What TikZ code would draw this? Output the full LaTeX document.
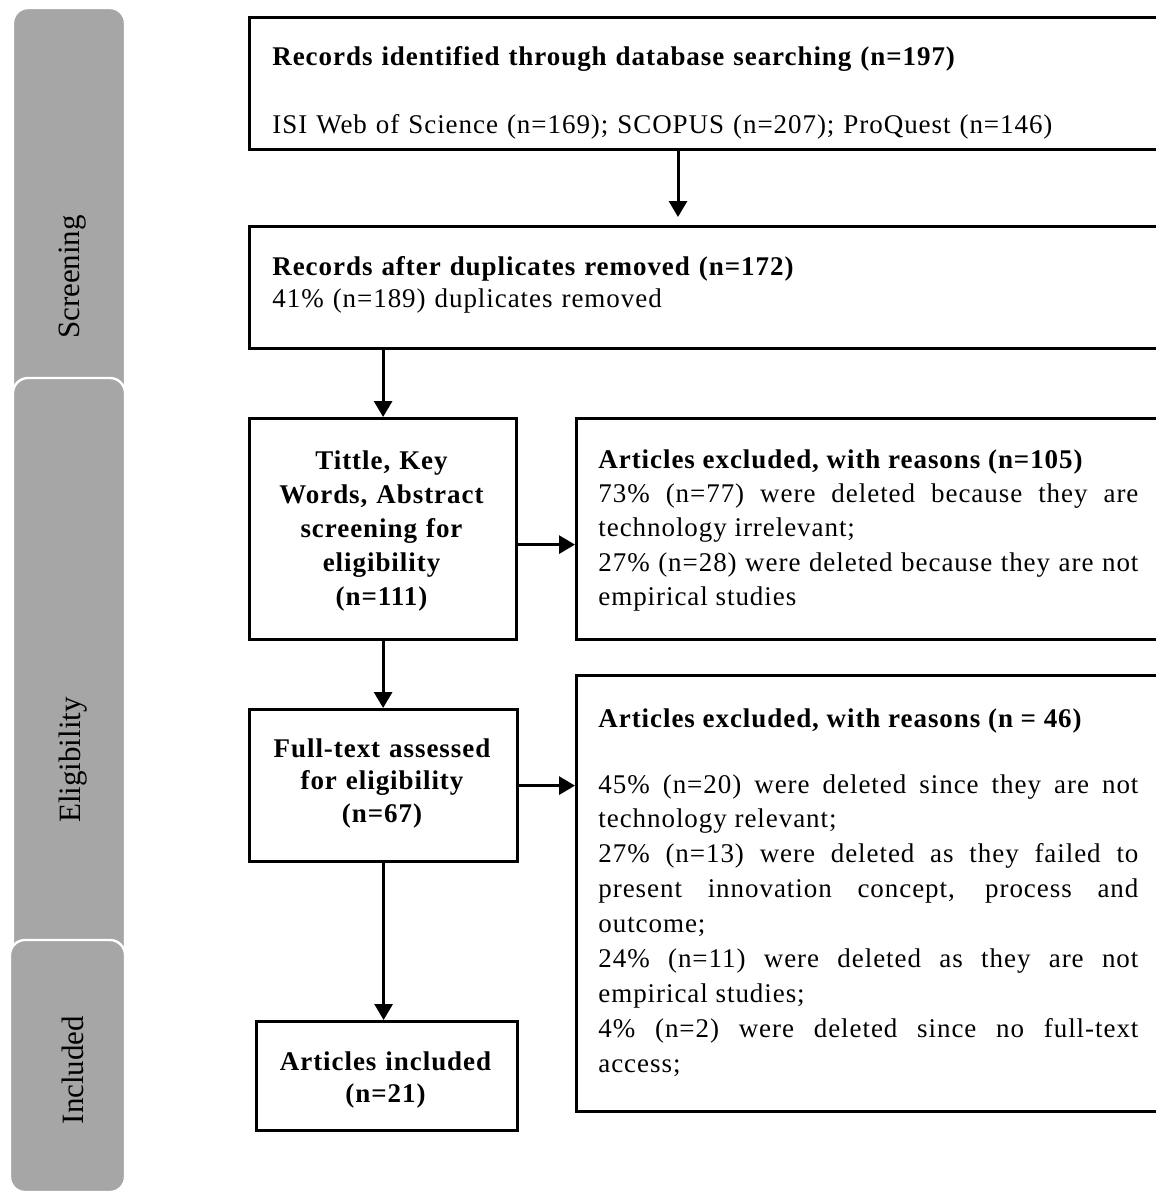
\documentclass[tikz,border=0pt]{standalone}
\usepackage{fontspec}
\setmainfont{Liberation Serif}[LetterSpace=3.5]
\newfontfamily\phasefont{Liberation Serif}
\usetikzlibrary{arrows.meta}
\usetikzlibrary{calc}
\definecolor{phasegray}{HTML}{A6A6A6}

\begin{document}
\begin{tikzpicture}[
        x=0.5pt, y=-0.5pt,
        box/.style={rectangle, draw=black, line width=1.6pt, anchor=north west, inner sep=0pt},
        txt/.style={anchor=base west, inner sep=0pt, align=left, font=\fontsize{13.5}{17.2}\selectfont},
        ctxt/.style={anchor=base, inner sep=0pt, align=center, font=\fontsize{13.5}{#1}\selectfont\bfseries},
        jtxt/.style={anchor=base west, inner sep=0pt, text width=270pt, align=justify,
            font=\fontsize{13.5}{#1}\selectfont,
            execute at begin node={\tolerance=10000\relax\hbadness=10000\relax}},
        phase/.style={rounded corners=7.5pt, fill=phasegray, draw=white, line width=1.2pt},
        phasetxt/.style={rotate=90, inner sep=0pt, font=\phasefont\fontsize{15.5}{18}\selectfont},
        arr/.style={line width=1.5pt, -{Triangle[length=8pt, width=9pt]}},
    ]

    \useasboundingbox (0,0) rectangle (1156,1195);

    \draw[phase] (13,8) rectangle (125,420);
    \draw[phase] (13,378) rectangle (125,960);
    \draw[phase] (10,940) rectangle (125,1192);

    \node[phasetxt] (P1) at (73,277)  {Screening};
    \node[phasetxt] (P2) at (73,760)  {Eligibility};
    \node[phasetxt] (P3) at (73,1070) {Included};

    \node[box, minimum width=476pt, minimum height=66pt]    (R1) at (248,16)   {};
    \node[box, minimum width=476pt, minimum height=61pt]    (R2) at (248,225)  {};
    \node[box, minimum width=133.5pt, minimum height=110.5pt] (T1) at (248,417) {};
    \node[box, minimum width=320pt, minimum height=110.5pt] (X1) at (575,417)  {};
    \node[box, minimum width=134pt, minimum height=76pt]    (F1) at (248,708)  {};
    \node[box, minimum width=320pt, minimum height=218pt]   (X2) at (575,674)  {};
    \node[box, minimum width=130.5pt, minimum height=54.5pt] (A1) at (255,1020) {};

    \node[txt, text width=440pt] (tR1) at (272,65) {
        \textbf{Records identified through database searching (n=197)}\\[17pt]
        ISI Web of Science (n=169); SCOPUS (n=207); ProQuest (n=146)
    };
    \node[txt, text width=440pt] (tR2) at (272,275) {
        \textbf{Records after duplicates removed (n=172)}\\[-1pt]
        41\% (n=189) duplicates removed
    };
    \node[ctxt=17, text width=130pt] (tT1) at (381.5,469) {
        Tittle, Key\\Words, Abstract\\screening for\\eligibility\\(n=111)
    };
    \node[jtxt=17.2] (tX1) at (598,468) {
        \textbf{Articles excluded, with reasons (n=105)}\\
        73\% (n=77) were deleted because they are\linebreak
        technology irrelevant;\\
        27\% (n=28) were deleted because they are not\linebreak
        empirical studies
    };
    \node[ctxt=16.3, text width=130pt] (tF1) at (382,757) {
        Full-text assessed\\for eligibility\\(n=67)
    };
    \node[jtxt=17.45] (tX2) at (598,727) {
        \textbf{Articles excluded, with reasons (n = 46)}\\[15.55pt]
        45\% (n=20) were deleted since they are not\linebreak
        technology relevant;\\
        27\% (n=13) were deleted as they failed to\linebreak
        present innovation concept, process and\linebreak
        outcome;\\
        24\% (n=11) were deleted as they are not\linebreak
        empirical studies;\\
        4\% (n=2) were deleted since no full-text\linebreak
        access;
    };
    \node[ctxt=16, text width=128pt] (tA1) at (385.5,1070) {
        Articles included\\(n=21)
    };

    \coordinate (C1) at (678,148);
    \coordinate (C2) at ($(T1.east)+(0,15.5)$);

    \draw[arr, shorten >=4pt] (C1) -- (C1 |- R2.north);
    \draw[arr] (T1.north |- R2.south) -- (T1.north);
    \draw[arr] (C2) -- (C2 -| X1.west);
    \draw[arr] (T1.south) -- (T1.south |- F1.north);
    \draw[arr] (F1.east) -- (F1.east -| X2.west);
    \draw[arr] (F1.south) -- (F1.south |- A1.north);

\end{tikzpicture}
\end{document}
